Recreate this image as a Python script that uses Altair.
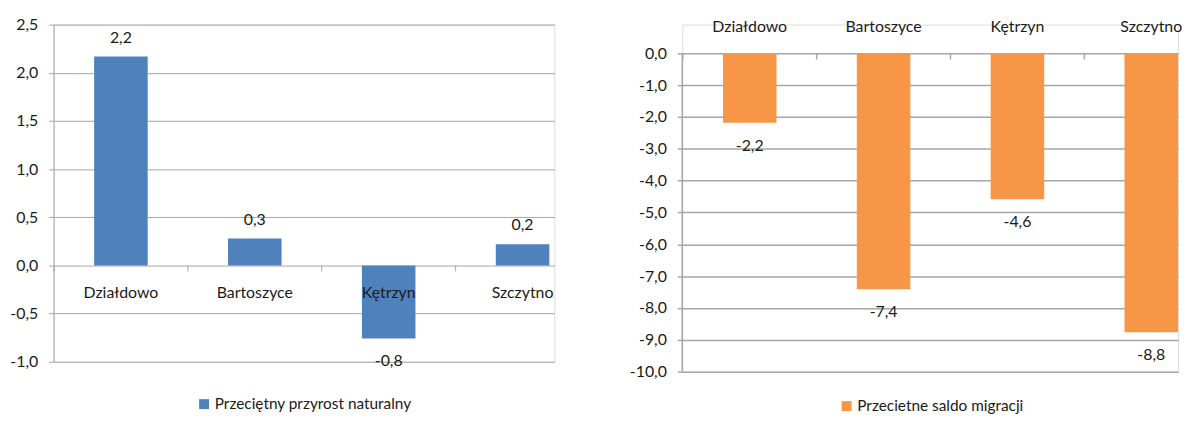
import altair as alt
import pandas as pd

# ---- data ----
CATEGORIES = ["Działdowo", "Bartoszyce", "Kętrzyn", "Szczytno"]
NATURAL = [2.17, 0.28, -0.76, 0.22]
MIGRATION = [-2.18, -7.41, -4.58, -8.76]
SERIES_LEFT = "Przeciętny przyrost naturalny"
SERIES_RIGHT = "Przecietne saldo migracji"
TICKS_LEFT = [-1.0, -0.5, 0.0, 0.5, 1.0, 1.5, 2.0, 2.5]
TICKS_RIGHT = [0, -1, -2, -3, -4, -5, -6, -7, -8, -9, -10]

# ---- style ----
FONT = "Lato"
FS = 16
LFS = 15.5
TEXT = "#1a1a1a"
GRID = "#a6a6a6"
BLUE = "#4F81BD"
ORANGE = "#F79646"
FMT = "replace(replace(format(datum.value, '.1f'), '.', ','), '\u2212', '-')"


def panel(values, series, color, domain, axis_range, ticks, width, height, step,
          xscale, xaxis, legend_xy, tick_len, grid_w, draw_domain):
    df = pd.DataFrame({"cat": CATEGORIES, "value": values, "series": series})
    base = alt.Chart(df)
    x = alt.X("cat:N", sort=CATEGORIES, title=None, scale=xscale, axis=xaxis)
    yscale = alt.Scale(domain=domain, nice=False, zero=False)
    yaxis = alt.Axis(values=ticks, labelExpr=FMT, grid=True,
                     gridColor=GRID, gridWidth=grid_w,
                     domain=draw_domain, domainColor=GRID, domainWidth=grid_w,
                     tickColor=GRID, tickWidth=grid_w, tickSize=5,
                     labelPadding=11, labelFont=FONT, labelFontSize=FS,
                     labelColor=TEXT)

    def Y(field):
        return alt.Y(field, title=None, scale=yscale, axis=yaxis)

    bars = base.mark_bar().encode(
        x=x, y=Y("value:Q"),
        color=alt.Color("series:N", scale=alt.Scale(range=[color]),
                        legend=alt.Legend(orient="none", legendX=legend_xy[0],
                                          legendY=legend_xy[1], title=None,
                                          symbolType="square", symbolSize=100,
                                          symbolStrokeWidth=0, labelFont=FONT,
                                          labelFontSize=LFS, labelColor=TEXT,
                                          labelOffset=3, padding=0,
                                          labelLimit=0)))
    ticks_rule = base.transform_calculate(
        zero="0", tick=str(tick_len)).mark_rule(
        color=GRID, strokeWidth=grid_w, xOffset=-step / 2).encode(
        x=x, y=Y("zero:Q"), y2="tick:Q")
    lab_pos = base.transform_filter("datum.value >= 0").transform_calculate(
        label=FMT).mark_text(dy=-19, font=FONT, fontSize=FS, color=TEXT).encode(
        x=x, y=Y("value:Q"), text="label:N")
    lab_neg = base.transform_filter("datum.value < 0").transform_calculate(
        label=FMT).mark_text(dy=23, font=FONT, fontSize=FS, color=TEXT).encode(
        x=x, y=Y("value:Q"), text="label:N")
    layers = [ticks_rule, bars, lab_pos, lab_neg]
    if not draw_domain:
        axis_df = pd.DataFrame({"top": [axis_range[1]], "bottom": [axis_range[0]]})
        layers.insert(0, alt.Chart(axis_df).mark_rule(
            color=GRID, strokeWidth=grid_w).encode(
            x=alt.value(0), y=Y("top:Q"), y2="bottom:Q"))
    return alt.layer(*layers).properties(width=width, height=height)


left = panel(
    NATURAL, SERIES_LEFT, BLUE, [-1.0, 2.5], [-1.0, 2.5], TICKS_LEFT,
    505, 340, 135,
    alt.Scale(paddingInner=0.6, paddingOuter=0.17, align=0.89),
    alt.Axis(orient="bottom", offset=-97, domain=False, ticks=False, tickSize=0,
             labelPadding=27, labelBaseline="middle", labelAngle=0, zindex=1,
             grid=False, labelFont=FONT, labelFontSize=FS, labelColor=TEXT),
    (144, 375), -0.062, 1, True)

right = panel(
    MIGRATION, SERIES_RIGHT, ORANGE, [-10, 0.903], [-10, 0], TICKS_RIGHT,
    500, 350, 135,
    alt.Scale(paddingInner=0.6, paddingOuter=0.152, align=1.0),
    alt.Axis(orient="top", offset=-29, domain=False, ticks=False, tickSize=0,
             labelPadding=27, labelBaseline="middle", labelAngle=0, zindex=1,
             grid=False, labelFont=FONT, labelFontSize=FS, labelColor=TEXT),
    (158, 377), -0.19, 1.5, False)

chart = alt.hconcat(left, right, spacing=74).resolve_scale(
    color="independent").resolve_legend(color="independent").properties(
    padding={"left": 1, "top": 6, "right": 0, "bottom": 0}
).configure_view(stroke=None).configure(font=FONT)

chart.save("out.html", embed_options={"renderer": "svg", "actions": False})
